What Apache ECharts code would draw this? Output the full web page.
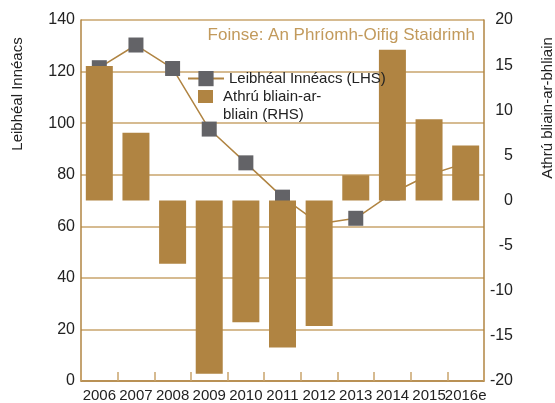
<!DOCTYPE html>
<html>
<head>
<meta charset="utf-8">
<script src="https://cdn.jsdelivr.net/npm/echarts@6/dist/echarts.min.js"></script>
<style>
  html, body { margin: 0; padding: 0; background: #fff; }
  #chart { width: 555px; height: 403px; }
</style>
</head>
<body>
<div id="chart"></div>
<script>
// categories
const years = ['2006', '2007', '2008', '2009', '2010', '2011', '2012', '2013', '2014', '2015', '2016e'];
// index level (left axis)
const indexLevel = [121.5, 130.3, 121.2, 97.7, 84.6, 71.3, 61.0, 63.1, 72.9, 80.0, 84.5];
// year-on-year change (right axis)
const yoyChange = [14.9, 7.5, -7.0, -19.2, -13.5, -16.3, -13.9, 2.8, 16.7, 9.0, 6.1];

const gold = '#b08442';
const grey = '#636367';
const font = '"Liberation Sans", Arial, sans-serif';

const chart = echarts.init(document.getElementById('chart'));
chart.setOption({
  animation: false,
  textStyle: { fontFamily: font },
  title: {
    text: 'Foinse: An Phríomh-Oifig Staidrimh',
    right: 75,
    top: 22,
    textStyle: { color: '#c29a5c', fontSize: 17, fontWeight: 'normal', fontFamily: font }
  },
  grid: { left: 81, right: 71, top: 20, bottom: 22, containLabel: false },
  legend: [
    {
      data: ['Leibhéal Innéacs (LHS)'],
      left: 187, top: 71, padding: 0,
      itemWidth: 36, itemHeight: 19,
      textStyle: { fontSize: 15, color: '#222', fontFamily: font }
    },
    {
      // square sits at the top of a taller icon box so it lines up with the first text line
      data: [{ name: 'Athrú bliain-ar-bliain (RHS)', icon: 'path://M0,0h15v13h-15z M0,32h0.01v0.01h-0.01z' }],
      left: 198, top: 88, padding: 0,
      itemWidth: 15, itemHeight: 32,
      formatter: () => 'Athrú bliain-ar-\nbliain (RHS)',
      textStyle: { fontSize: 15, color: '#222', lineHeight: 18, fontFamily: font, padding: [0, 0, 0, 5] }
    }
  ],
  xAxis: {
    type: 'category',
    data: years,
    axisLine: { lineStyle: { color: gold, width: 1.5 } },
    axisTick: { show: true, inside: true, length: 9, lineStyle: { color: '#c9a46c', width: 1.5 } },
    axisLabel: { color: '#222', fontSize: 15, margin: 7, interval: 0, fontFamily: font }
  },
  yAxis: [
    {
      type: 'value', min: 0, max: 140, interval: 20,
      axisLine: { show: true, lineStyle: { color: gold, width: 1.5 } },
      axisTick: { show: false },
      axisLabel: { color: '#222', fontSize: 16, margin: 6, fontFamily: font },
      splitLine: { lineStyle: { color: '#c9a46c', width: 1.5 } }
    },
    {
      type: 'value', min: -20, max: 20, interval: 5,
      position: 'right',
      axisLine: { show: true, lineStyle: { color: gold, width: 1.5 } },
      axisTick: { show: false },
      axisLabel: { color: '#222', fontSize: 16, margin: 29, align: 'right', fontFamily: font },
      splitLine: { show: false }
    }
  ],
  graphic: [
    {
      type: 'text', x: 18, y: 94, rotation: Math.PI / 2,
      style: { text: 'Leibhéal Innéacs', fill: '#222', font: '15px ' + font, align: 'center', verticalAlign: 'middle' }
    },
    {
      type: 'text', x: 548, y: 108, rotation: Math.PI / 2,
      style: { text: 'Athrú bliain-ar-bhliain', fill: '#222', font: '15px ' + font, align: 'center', verticalAlign: 'middle' }
    }
  ],
  series: [
    {
      name: 'Leibhéal Innéacs (LHS)',
      type: 'line',
      yAxisIndex: 0,
      data: indexLevel,
      symbol: 'rect',
      symbolSize: 15,
      z: 1,
      lineStyle: { color: gold, width: 1.5 },
      itemStyle: { color: grey }
    },
    {
      name: 'Athrú bliain-ar-bliain (RHS)',
      type: 'bar',
      yAxisIndex: 1,
      data: yoyChange,
      barWidth: 27,
      z: 2,
      itemStyle: { color: gold }
    }
  ]
});
</script>
</body>
</html>
